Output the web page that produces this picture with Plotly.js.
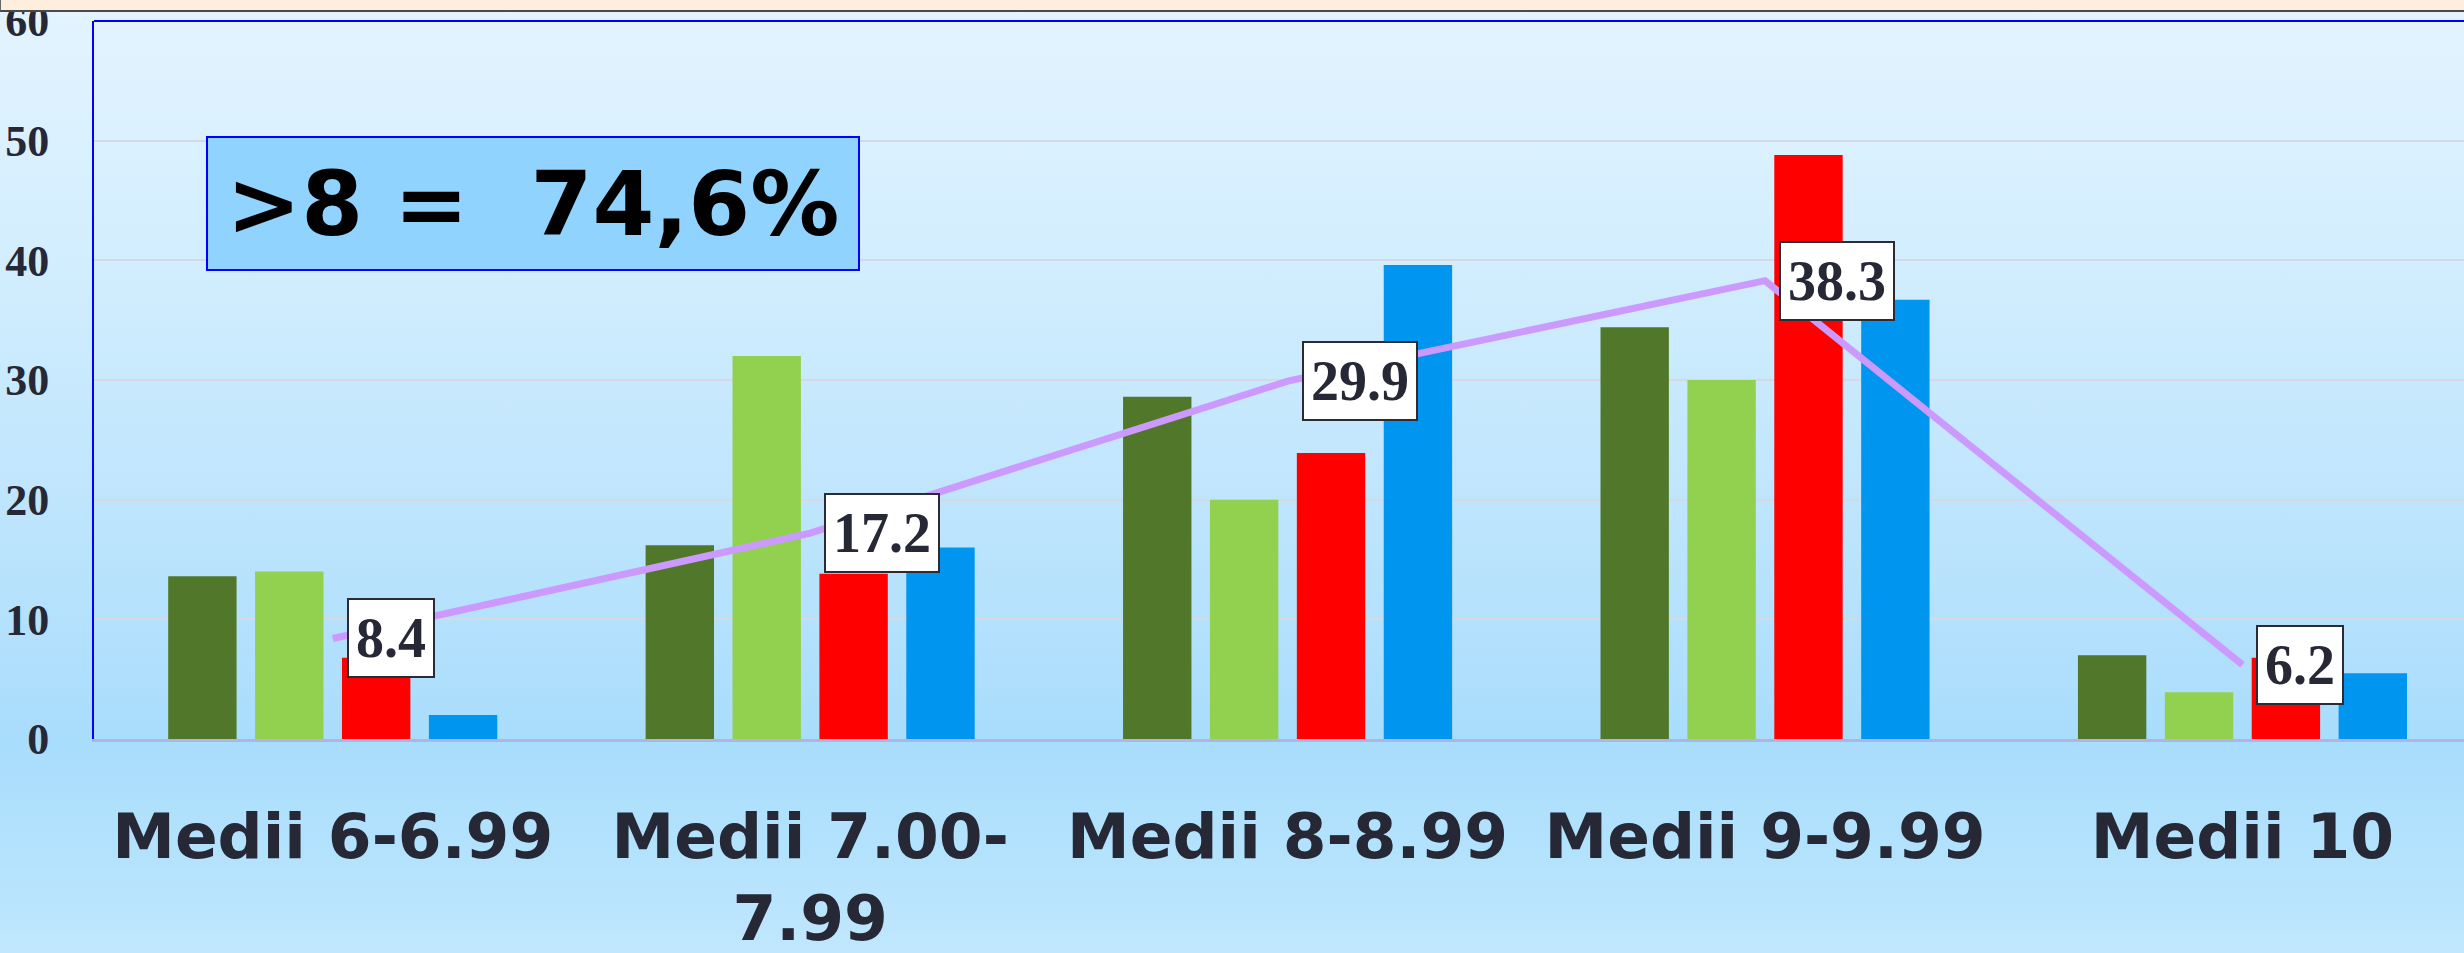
<!DOCTYPE html>
<html>
<head>
<meta charset="utf-8">
<script src="https://cdn.plot.ly/plotly-3.0.1.min.js"></script>
<style>
  html, body { margin: 0; padding: 0; width: 2464px; height: 953px; overflow: hidden; }
  body {
    background: linear-gradient(to bottom, #E4F4FF 0px, #D3EEFE 250px, #BFE5FD 500px, #A9DDFC 740px, #B3E2FD 850px, #C0E7FE 953px);
    position: relative;
  }
  #topband {
    position: absolute; left: 0; top: 0; width: 2464px; height: 10px;
    background: #FFEEDE; border-bottom: 2px solid #4A4A4A; border-left: 1px solid #666;
    box-sizing: content-box; z-index: 5;
  }
  #chart { position: absolute; left: 0; top: 0; width: 2464px; height: 953px; }
</style>
</head>
<body>
<div id="topband"></div>
<div id="chart"></div>
<script>
// ---- data ----
const categories = ["Medii 6-6.99", "Medii 7.00-<br>7.99", "Medii 8-8.99", "Medii 9-9.99", "Medii 10"];
const seriesNames = ["Seria 1", "Seria 2", "Seria 3", "Seria 4"];
const darkGreenValues  = [13.6, 16.2, 28.6, 34.4, 7.0];
const lightGreenValues = [14.0, 32.0, 20.0, 30.0, 3.9];
const redValues        = [6.8, 13.8, 23.9, 48.8, 6.8];
const blueValues       = [2.0, 16.0, 39.6, 36.7, 5.5];
const totalValues      = [8.4, 17.2, 29.9, 38.3, 6.2];
const totalName = "Total";
const summaryText = ">8 =\u00a0 74,6%";

// ---- styles ----
const barColors = ["#51782A", "#92D050", "#FF0000", "#0095EF"];
const textColor = "#262836";

const barSeries = [darkGreenValues, lightGreenValues, redValues, blueValues];
const traces = barSeries.map((vals, i) => ({
  type: "bar",
  name: seriesNames[i],
  x: categories,
  y: vals,
  marker: { color: barColors[i], line: { width: 0 } },
  hoverinfo: "x+y"
}));

traces.push({
  type: "scatter",
  mode: "lines",
  name: totalName,
  x: categories,
  y: totalValues,
  line: { color: "#CC99FF", width: 7 },
  hoverinfo: "x+y"
});

const annotations = totalValues.map((v, i) => ({
  x: categories[i],
  y: v,
  xref: "x",
  yref: "y",
  text: v.toFixed(1),
  showarrow: false,
  xanchor: "left",
  yanchor: "middle",
  xshift: 14,
  bgcolor: "#FFFFFF",
  bordercolor: "#2B2B36",
  borderwidth: 2,
  borderpad: 7,
  font: { family: "Liberation Serif, Times New Roman, serif", size: 56, color: textColor, weight: "bold" }
}));

annotations.push({
  xref: "paper",
  yref: "paper",
  x: 0.0473,
  y: 0.8398,
  xanchor: "left",
  yanchor: "top",
  text: summaryText,
  showarrow: false,
  width: 650,
  height: 131,
  align: "center",
  valign: "middle",
  bgcolor: "#8FD3FE",
  bordercolor: "#0000FF",
  borderwidth: 2,
  borderpad: 0,
  font: { family: "DejaVu Sans, sans-serif", size: 89, color: "#000000", weight: "bold" }
});

const layout = {
  width: 2464,
  height: 953,
  paper_bgcolor: "rgba(0,0,0,0)",
  plot_bgcolor: "rgba(0,0,0,0)",
  showlegend: false,
  margin: { l: 94, r: 0, t: 21, b: 214, autoexpand: false },
  barmode: "group",
  bargap: 0.272,
  bargroupgap: 0.213,
  xaxis: {
    type: "category",
    range: [-0.5, 4.464],
    autorange: false,
    showline: true,
    linecolor: "#B0B4E4",
    linewidth: 3,
    ticks: "",
    showgrid: false,
    zeroline: false,
    ticklabelstandoff: 40,
    ticklabeloverflow: "allow",
    tickfont: { family: "DejaVu Sans, sans-serif", size: 63, color: textColor, weight: "bold" },
    fixedrange: true
  },
  yaxis: {
    range: [0, 60],
    autorange: false,
    tick0: 0,
    dtick: 10,
    showgrid: true,
    gridcolor: "#D6D9E4",
    gridwidth: 2,
    showline: true,
    linecolor: "#0000FF",
    linewidth: 2,
    zeroline: false,
    ticks: "",
    ticklabelstandoff: 34,
    ticklabeloverflow: "allow",
    tickfont: { family: "Liberation Serif, Times New Roman, serif", size: 44, color: textColor, weight: "bold" },
    fixedrange: true
  },
  shapes: [
    { type: "line", xref: "paper", yref: "paper", x0: 0, x1: 1, y0: 1, y1: 1,
      line: { color: "#0000FF", width: 2 } }
  ],
  annotations: annotations
};

Plotly.newPlot("chart", traces, layout, { displayModeBar: false, staticPlot: true });
</script>
</body>
</html>
